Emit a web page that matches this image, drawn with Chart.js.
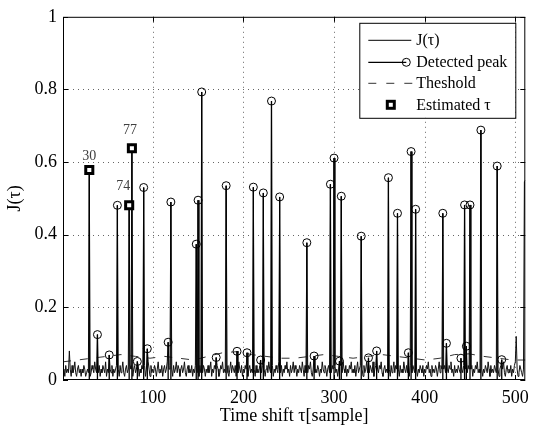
<!DOCTYPE html>
<html><head><meta charset="utf-8">
<script src="https://cdn.jsdelivr.net/npm/chart.js@4.4.0/dist/chart.umd.min.js"></script>
<style>html,body{margin:0;padding:0;background:#fff;}#wrap{width:536px;height:433px;}</style>
</head><body><div id="wrap"><canvas id="c" width="536" height="433"></canvas></div>
<script>
// J(tau) background values, samples 1..511 (peaks overwritten below)
const jNoise = [
0.02,0.03,0.01,0.04,0.02,0.03,0.02,0.08,0.03,0.01,0.04,0.02,0.03,0.05,0.02,0.01,0.03,0.04,0.02,0.03,
0.01,0.03,0.02,0.04,0.03,0.01,0.02,0.03,0.02,0.03,0.01,0.02,0.04,0.03,0.02,0.05,0.03,0.02,0.03,0.02,
0.04,0.01,0.03,0.02,0.04,0.03,0.02,0.05,0.01,0.03,0.02,0.04,0.03,0.02,0.04,0.01,0.03,0.02,0.03,0.04,
0.02,0.03,0.01,0.04,0.02,0.03,0.05,0.02,0.01,0.03,0.04,0.02,0.03,0.02,0.04,0.03,0.02,0.01,0.03,0.04,
0.02,0.03,0.02,0.04,0.01,0.03,0.02,0.04,0.03,0.02,0.04,0.01,0.03,0.02,0.05,0.03,0.01,0.04,0.02,0.03,
0.02,0.04,0.03,0.01,0.03,0.05,0.02,0.03,0.02,0.04,0.01,0.03,0.04,0.02,0.03,0.05,0.02,0.03,0.04,0.02,
0.03,0.01,0.04,0.02,0.03,0.05,0.02,0.04,0.03,0.01,0.03,0.04,0.02,0.03,0.05,0.02,0.01,0.03,0.04,0.02,
0.03,0.02,0.04,0.01,0.03,0.02,0.04,0.03,0.02,0.03,0.01,0.04,0.02,0.03,0.02,0.04,0.03,0.01,0.03,0.02,
0.04,0.02,0.03,0.05,0.01,0.03,0.02,0.04,0.03,0.02,0.04,0.03,0.01,0.02,0.04,0.03,0.05,0.02,0.03,0.02,
0.03,0.04,0.02,0.01,0.03,0.05,0.02,0.04,0.03,0.02,0.04,0.01,0.03,0.02,0.05,0.03,0.02,0.04,0.01,0.03,
0.02,0.04,0.03,0.02,0.01,0.03,0.04,0.02,0.03,0.02,0.05,0.03,0.01,0.04,0.02,0.03,0.02,0.04,0.03,0.02,
0.04,0.02,0.03,0.01,0.03,0.04,0.02,0.05,0.03,0.02,0.03,0.04,0.01,0.03,0.02,0.04,0.03,0.02,0.05,0.03,
0.02,0.04,0.01,0.03,0.02,0.04,0.03,0.05,0.02,0.03,0.01,0.04,0.02,0.03,0.05,0.02,0.04,0.03,0.01,0.03,
0.02,0.04,0.03,0.02,0.05,0.03,0.01,0.04,0.02,0.03,0.02,0.04,0.03,0.05,0.02,0.01,0.03,0.04,0.02,0.03,
0.02,0.04,0.03,0.01,0.03,0.02,0.05,0.03,0.02,0.04,0.03,0.01,0.03,0.04,0.02,0.03,0.02,0.04,0.03,0.02,
0.04,0.02,0.03,0.01,0.03,0.02,0.04,0.03,0.02,0.05,0.03,0.02,0.04,0.01,0.03,0.02,0.04,0.03,0.05,0.02,
0.03,0.02,0.04,0.01,0.03,0.05,0.02,0.03,0.04,0.02,0.03,0.01,0.04,0.02,0.03,0.05,0.02,0.03,0.02,0.04,
0.03,0.02,0.05,0.01,0.03,0.04,0.02,0.03,0.02,0.04,0.03,0.05,0.02,0.01,0.03,0.04,0.02,0.03,0.02,0.04,
0.03,0.01,0.04,0.02,0.03,0.05,0.02,0.04,0.03,0.02,0.03,0.01,0.04,0.02,0.03,0.02,0.05,0.03,0.02,0.04,
0.02,0.03,0.01,0.04,0.03,0.02,0.04,0.03,0.02,0.05,0.03,0.01,0.03,0.02,0.04,0.03,0.02,0.04,0.01,0.03,
0.02,0.04,0.03,0.05,0.02,0.03,0.01,0.04,0.02,0.03,0.02,0.04,0.03,0.01,0.03,0.05,0.02,0.04,0.03,0.02,
0.03,0.04,0.02,0.01,0.03,0.02,0.04,0.03,0.05,0.02,0.03,0.01,0.04,0.02,0.03,0.02,0.04,0.03,0.02,0.05,
0.03,0.02,0.04,0.01,0.03,0.05,0.02,0.04,0.03,0.02,0.03,0.04,0.01,0.03,0.02,0.04,0.03,0.05,0.02,0.03,
0.02,0.04,0.03,0.01,0.03,0.02,0.04,0.03,0.02,0.05,0.03,0.01,0.04,0.02,0.03,0.02,0.04,0.03,0.02,0.04,
0.03,0.01,0.03,0.04,0.02,0.03,0.05,0.02,0.01,0.03,0.04,0.02,0.03,0.02,0.04,0.01,0.03,0.02,0.04,0.05,
0.12,0.03,0.01,0.02,0.04,0.03,0.02,0.01,0.03,0.546,0.55
];
// Detected peaks
const peakSamples = [30,39,52,61,74,77,83,90,94,117,120,148,150,154,170,181,193,204,211,219,222,231,240,270,278,296,300,306,308,330,338,347,360,370,382,385,390,420,424,440,444,446,450,462,480,485];
const peakValues  = [0.578,0.125,0.069,0.481,0.481,0.638,0.051,0.530,0.086,0.104,0.490,0.374,0.495,0.793,0.062,0.535,0.079,0.075,0.531,0.055,0.515,0.768,0.504,0.378,0.066,0.539,0.611,0.052,0.506,0.396,0.061,0.080,0.557,0.459,0.075,0.629,0.470,0.459,0.101,0.060,0.482,0.093,0.482,0.688,0.589,0.056];
// Estimated tau
const estSamples = [30,74,77];
const estValues  = [0.578,0.481,0.638];
// Threshold
const thrSamples = [1,17,33,49,65,81,97,113,129,145,161,177,193,209,225,241,257,273,289,305,321,337,353,369,385,401,417,433,449,465,481,497,511];
const thrValues  = [0.050,0.055,0.060,0.065,0.070,0.065,0.060,0.065,0.060,0.055,0.065,0.075,0.078,0.070,0.065,0.060,0.060,0.065,0.070,0.065,0.060,0.065,0.070,0.065,0.060,0.055,0.060,0.070,0.072,0.065,0.060,0.055,0.055];
const xTicks = [100,200,300,400,500];
const yTicks = [0,0.2,0.4,0.6,0.8,1];
const seriesLabels = ['J(\u03C4)','Detected peak','Theshold','Estimated \u03C4'];
const xTitle = 'Time shift \u03C4[sample]';
const yTitle = 'J(\u03C4)';

const SERIF = "'Liberation Serif','Times New Roman',serif";

const jData = jNoise.map((v,i)=>({x:i+1,y:v}));
peakSamples.forEach((s,k)=>{ if (jData[s-1]) jData[s-1].y = peakValues[k]; });
const stemData = [];
peakSamples.forEach((s,k)=>{ stemData.push({x:s,y:0},{x:s,y:peakValues[k]},{x:s,y:null}); });
const estData = estSamples.map((s,k)=>({x:s,y:estValues[k]}));
const thrData = thrSamples.map((s,k)=>({x:s,y:thrValues[k]}));

const labelOffsets = [[0,-14],[-6,-19],[-2,-18]];

const decor = {
  id:'decor',
  beforeDatasetsDraw(chart){
    const {ctx, chartArea:a, scales:{x,y}} = chart;
    ctx.save();
    ctx.strokeStyle = '#666'; ctx.lineWidth = 1; ctx.setLineDash([1,4]);
    xTicks.forEach(t=>{ const px = Math.round(x.getPixelForValue(t))+0.5;
      ctx.beginPath(); ctx.moveTo(px,a.top); ctx.lineTo(px,a.bottom); ctx.stroke(); });
    yTicks.forEach(t=>{ if (t<=0||t>=1) return; const py = Math.round(y.getPixelForValue(t))+0.5;
      ctx.beginPath(); ctx.moveTo(a.left,py); ctx.lineTo(a.right,py); ctx.stroke(); });
    ctx.restore();
  },
  afterDatasetsDraw(chart){
    const {ctx, chartArea:a, scales:{x,y}} = chart;
    ctx.save();
    ctx.setLineDash([]); ctx.strokeStyle='#000'; ctx.lineWidth=1;
    ctx.strokeRect(a.left+0.5,a.top+0.5,a.right-a.left-1,a.bottom-a.top-1);
    const tl=5;
    xTicks.forEach(t=>{ const px=Math.round(x.getPixelForValue(t))+0.5;
      ctx.beginPath(); ctx.moveTo(px,a.bottom); ctx.lineTo(px,a.bottom-tl);
      ctx.moveTo(px,a.top); ctx.lineTo(px,a.top+tl); ctx.stroke(); });
    yTicks.forEach(t=>{ const py=Math.round(y.getPixelForValue(t))+0.5;
      ctx.beginPath(); ctx.moveTo(a.left,py); ctx.lineTo(a.left+tl,py);
      ctx.moveTo(a.right,py); ctx.lineTo(a.right-tl,py); ctx.stroke(); });
    ctx.fillStyle='#404040'; ctx.font='14px '+SERIF; ctx.textAlign='center'; ctx.textBaseline='middle';
    estSamples.forEach((s,k)=>{ const px=x.getPixelForValue(s), py=y.getPixelForValue(estValues[k]);
      ctx.fillText(String(s), px+labelOffsets[k][0], py+labelOffsets[k][1]); });
    ctx.fillStyle='#000'; ctx.font='18px '+SERIF;
    ctx.fillText(xTitle,(a.left+a.right)/2,416);
    ctx.save(); ctx.translate(15,(a.top+a.bottom)/2); ctx.rotate(-Math.PI/2);
    ctx.fillText(yTitle,0,0); ctx.restore();
    const bx=a.right-166, by=a.top+6, bw=156, bh=95;
    ctx.fillStyle='#fff'; ctx.fillRect(bx,by,bw,bh);
    ctx.strokeStyle='#000'; ctx.lineWidth=1; ctx.strokeRect(bx+0.5,by+0.5,bw,bh);
    const lx0=bx+9, lx1=bx+52, tx=bx+57;
    const rows=[by+17,by+39,by+60,by+82];
    ctx.font='16px '+SERIF; ctx.textAlign='left'; ctx.textBaseline='middle';
    ctx.beginPath(); ctx.moveTo(lx0,rows[0]+0.5); ctx.lineTo(lx1,rows[0]+0.5); ctx.stroke();
    ctx.lineWidth=1.2;
    ctx.beginPath(); ctx.moveTo(lx0,rows[1]+0.5); ctx.lineTo(lx1-5,rows[1]+0.5); ctx.stroke();
    ctx.lineWidth=1;
    ctx.beginPath(); ctx.arc(lx1-5,rows[1]+0.5,4,0,Math.PI*2); ctx.stroke();
    ctx.strokeStyle='#333'; ctx.setLineDash([8,10]);
    ctx.beginPath(); ctx.moveTo(lx0,rows[2]+0.5); ctx.lineTo(lx1+2,rows[2]+0.5); ctx.stroke();
    ctx.setLineDash([]); ctx.strokeStyle='#000';
    ctx.lineWidth=3; ctx.fillStyle='#fff';
    ctx.fillRect(bx+28,rows[3]-3.5,7,7); ctx.strokeRect(bx+28,rows[3]-3.5,7,7);
    ctx.lineWidth=1; ctx.fillStyle='#000';
    seriesLabels.forEach((t,i)=>ctx.fillText(t,tx,rows[i]+1));
    ctx.restore();
  }
};

new Chart(document.getElementById('c'),{
  type:'scatter',
  data:{datasets:[
    {label:seriesLabels[3], data:estData, order:0, showLine:false, pointStyle:'rect', pointRadius:5, pointBorderWidth:3,
     pointBorderColor:'#000', pointBackgroundColor:'#fff', clip:false},
    {label:seriesLabels[1], data:stemData, order:1, showLine:true, spanGaps:false, borderColor:'#000', borderWidth:1.3,
     pointStyle:'circle', pointRadius:(c)=> (c.raw && c.raw.y>0) ? 4 : 0, pointBorderWidth:1,
     pointBorderColor:'#000', pointBackgroundColor:'rgba(0,0,0,0)', clip:false},
    {label:seriesLabels[0], data:jData, order:2, showLine:true, borderColor:'#111', borderWidth:1, pointRadius:0, tension:0},
    {label:seriesLabels[2], data:thrData, order:3, showLine:true, borderColor:'#333', borderWidth:1, borderDash:[8,9], pointRadius:0}
  ]},
  options:{
    responsive:false, animation:false, devicePixelRatio:1,
    layout:{padding:{top:10,right:4,left:0,bottom:0}},
    plugins:{legend:{display:false}, tooltip:{enabled:false}},
    scales:{
      x:{type:'linear', min:1, max:511,
        afterBuildTicks:(s)=>{ s.ticks = xTicks.map(v=>({value:v})); },
        afterFit:(s)=>{ s.height = 53; },
        grid:{display:false, drawTicks:false}, border:{display:false},
        ticks:{autoSkip:false, maxRotation:0, padding:7, color:'#000', font:{family:SERIF, size:18}, callback:(v)=>String(v)}},
      y:{type:'linear', min:0, max:1,
        afterBuildTicks:(s)=>{ s.ticks = yTicks.map(v=>({value:v})); },
        afterFit:(s)=>{ s.width = 63; },
        grid:{display:false, drawTicks:false}, border:{display:false},
        ticks:{padding:6, color:'#000', font:{family:SERIF, size:18}, callback:(v)=>String(v)}}
    }
  },
  plugins:[decor]
});
</script></body></html>
